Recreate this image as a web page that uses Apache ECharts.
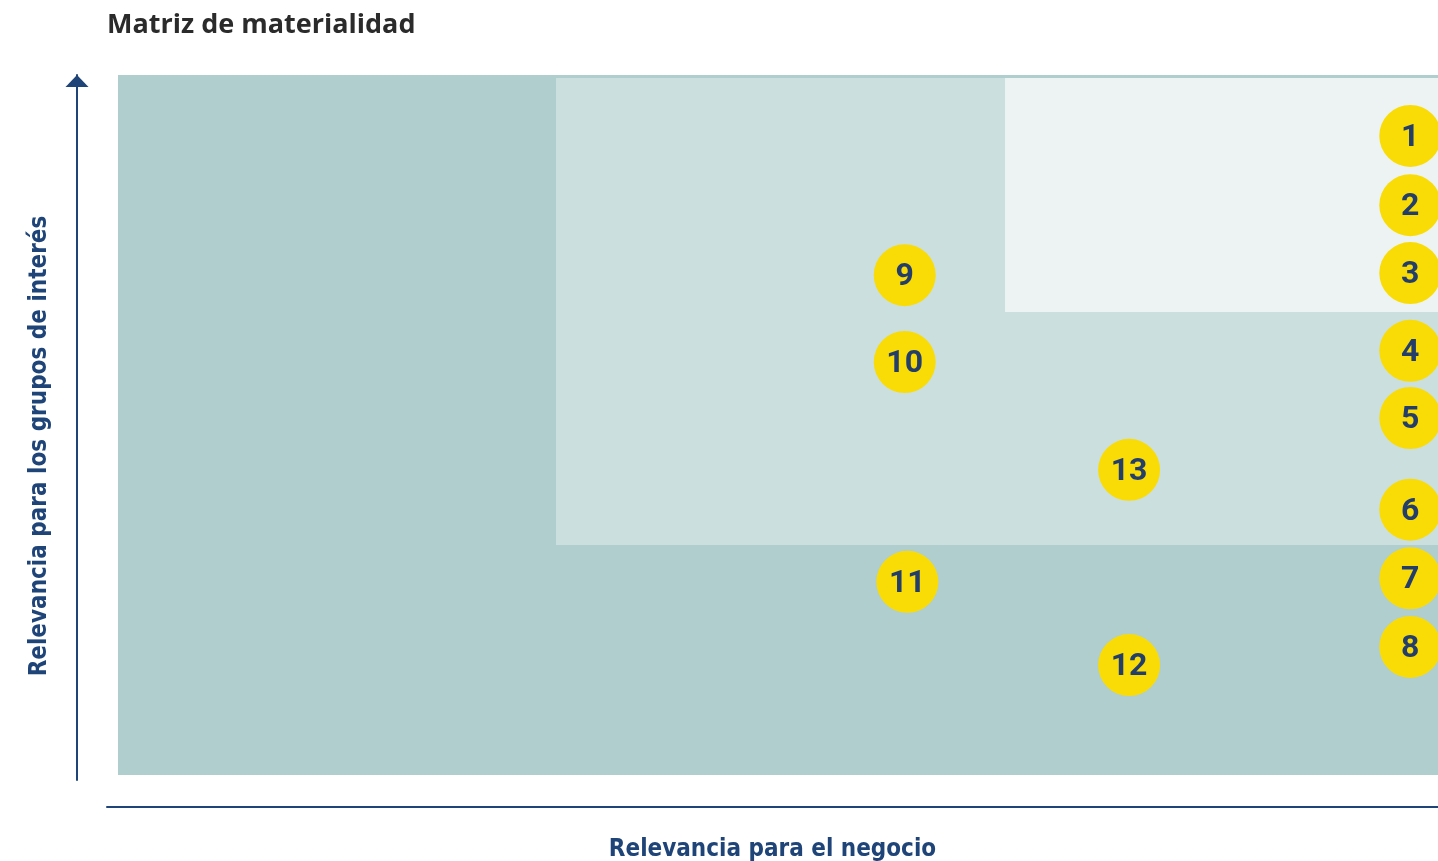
<!DOCTYPE html>
<html><head><meta charset="utf-8">
<script src="https://cdn.jsdelivr.net/npm/echarts@6/dist/echarts.min.js"></script>
<style>html,body{margin:0;padding:0;background:#fff}#c{width:1438px;height:861px}</style>
</head><body><div id="c"></div>
<script>
// Topic numbers and positions (0-10 scale)
var topics = ['1','2','3','4','5','6','7','8','9','10','11','12','13'];
var businessRelevance = [9.79,9.79,9.79,9.79,9.79,9.79,9.79,9.79,5.96,5.96,5.98,7.66,7.66];
var stakeholderRelevance = [9.13,8.14,7.17,6.06,5.10,3.79,2.81,1.83,7.14,5.90,2.76,1.57,4.36];
// Zones: [x0, y0, x1, y1]
var zoneLow = [0, 0, 10, 10];
var zoneMid = [3.318, 3.286, 10, 9.957];
var zoneHigh = [6.72, 6.614, 10, 9.957];
var zoneColors = ['#b0cece', '#ccdfdf', '#edf3f3'];
// Axis extents (axis lines start slightly before the shaded area)
var xRange = [-0.0833, 10];
var yRange = [-0.0714, 10];

var chart = echarts.init(document.getElementById('c'));
var zones = [zoneLow, zoneMid, zoneHigh];
var points = topics.map(function(t, i){ return [businessRelevance[i], stakeholderRelevance[i], t]; });
var navy = '#1f4478';
var nameFont = "'DejaVu Sans Condensed', 'Liberation Sans Narrow', Roboto, sans-serif";
chart.setOption({
  animation: false,
  title: {
    text: 'Matriz de materialidad', left: 102, top: 7,
    textStyle: {fontFamily: 'Open Sans', fontWeight: 'bold', fontSize: 27, color: '#2b2b2b'}
  },
  grid: {left: 107, right: 0, top: 75, bottom: 81, outerBoundsMode: 'none', containLabel: false},
  xAxis: {
    type: 'value', min: xRange[0], max: xRange[1], offset: 27,
    axisLine: {show: true, onZero: false, lineStyle: {color: navy, width: 2}},
    axisTick: {show: false}, axisLabel: {show: false}, splitLine: {show: false},
    name: 'Relevancia para el negocio', nameLocation: 'middle', nameGap: 31,
    nameTextStyle: {fontFamily: nameFont, fontWeight: 'bold', fontSize: 24, color: navy}
  },
  yAxis: {
    type: 'value', min: yRange[0], max: yRange[1], offset: 30,
    axisLine: {show: true, onZero: false, symbol: ['none', 'triangle'], symbolSize: [23, 12], symbolOffset: [0, -6], lineStyle: {color: navy, width: 2}},
    axisTick: {show: false}, axisLabel: {show: false}, splitLine: {show: false},
    name: 'Relevancia para los grupos de interés', nameLocation: 'middle', nameGap: 25,
    nameTextStyle: {fontFamily: nameFont, fontWeight: 'bold', fontSize: 24, color: navy, padding: [0, 37, 0, 0]}
  },
  series: [
    {
      type: 'custom', z: 1, silent: true,
      data: zones.map(function(z, i){ return [z[0], z[1], z[2], z[3], i]; }),
      renderItem: function(params, api){
        var p0 = api.coord([api.value(0), api.value(3)]);
        var p1 = api.coord([api.value(2), api.value(1)]);
        return {type: 'rect', shape: {x: p0[0], y: p0[1], width: p1[0]-p0[0], height: p1[1]-p0[1]},
          style: {fill: zoneColors[api.value(4)]}};
      }
    },
    {
      type: 'scatter', z: 5, symbolSize: 62,
      data: points,
      itemStyle: {color: '#f9dc06', opacity: 1},
      label: {show: true, position: 'inside', offset: [0, 2], formatter: function(p){ return p.data[2]; },
        fontFamily: 'Roboto', fontWeight: 'bold', fontSize: 32, color: '#243e6b'}
    }
  ]
});
</script></body></html>
